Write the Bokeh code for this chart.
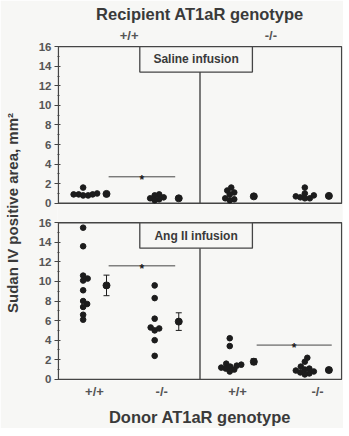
from bokeh.plotting import figure
from bokeh.models import Range1d, FixedTicker, CustomJSTickFormatter, LinearAxis
from bokeh.embed import file_html
from bokeh.resources import INLINE
from bokeh.core.properties import value

# ---------------- data ----------------
panel_titles = ["Saline infusion", "Ang II infusion"]
recipient_labels = ["+/+", "-/-"]
donor_labels = ["+/+", "-/-", "+/+", "-/-"]
y_tick_values = [0, 2, 4, 6, 8, 10, 12, 14, 16]

# individual mice, groups ordered: recipient +/+ (donor +/+, -/-), recipient -/- (donor +/+, -/-)
saline_rwt_dwt = [1.6, 1.0, 0.9, 0.9, 0.9, 0.8, 0.8]
saline_rwt_dko = [0.9, 0.8, 0.6, 0.5, 0.4, 0.3]
saline_rko_dwt = [1.6, 1.3, 1.1, 0.9, 0.5, 0.4, 0.3]
saline_rko_dko = [1.6, 1.0, 0.8, 0.7, 0.6, 0.5, 0.5]

angii_rwt_dwt = [15.5, 13.6, 10.6, 10.3, 10.1, 9.1, 8.0, 7.7, 7.4, 6.6, 6.1]
angii_rwt_dko = [9.6, 8.3, 6.2, 5.3, 5.2, 5.0, 4.0, 2.4]
angii_rko_dwt = [4.2, 3.4, 1.6, 1.5, 1.4, 1.3, 1.2, 1.1, 1.0, 0.8]
angii_rko_dko = [2.2, 1.8, 1.3, 1.1, 1.0, 0.9, 0.8, 0.7, 0.6, 0.5]

saline_means = [0.95, 0.5, 0.7, 0.75]
saline_sems = [0.1, 0.1, 0.15, 0.1]
angii_means = [9.6, 5.9, 1.8, 0.95]
angii_sems = [1.05, 0.9, 0.3, 0.2]

saline_sig_y = [2.7]          # bar over recipient +/+ pair
angii_sig_y = [11.6, 3.5]     # bars over recipient +/+ and recipient -/- pairs

# ---------------- layout constants ----------------
OFF = 18                      # vertical offset of the upper (saline) panel
DOT_X = [0.35, 1.36, 2.42, 3.48]
MEAN_X = [0.68, 1.70, 2.76, 3.82]
TICK_X = [0.51, 1.46, 2.53, 3.66]
REC_X = [1, 3]
SIG_SPANS = [(0.71, 1.65), (2.80, 3.86)]
PX_X, PX_Y = 70.8, 9.84
DOT, GAP = 5.6, 4.6           # marker diameter and minimum centre distance in the swarm
INK = "#1c1c1c"
LINE = "#454545"
TXT = "#3a3a3a"
BG = "#f7f7f5"


def swarm(vals, cx):
    placed = []
    xs = [0.0] * len(vals)
    order = sorted(range(len(vals)), key=lambda i: vals[i])
    cands = [0.0] + [s * k * 0.5 for k in range(1, 120) for s in (1, -1)]
    for i in order:
        y = vals[i] * PX_Y
        for c in cands:
            if all((c - px) ** 2 + (y - py) ** 2 >= GAP * GAP for px, py in placed):
                break
        placed.append((c, y))
        xs[i] = cx + c / PX_X
    return xs


p = figure(frame_width=285, frame_height=335, output_backend="svg", toolbar_location=None,
           x_range=Range1d(-0.012, 4.012), y_range=Range1d(-0.12, 34.12),
           min_border_left=55, min_border_right=1, min_border_top=42, min_border_bottom=43,
           background_fill_color=BG, border_fill_color=BG, outline_line_color=None)
p.grid.visible = False

# panel frames and dividers
p.quad(left=0, right=4, bottom=[0, OFF], top=[16, 16 + OFF], fill_color=None,
       line_color=LINE, line_width=1.4)
p.segment(x0=2, y0=[0, OFF], x1=2, y1=[16, 16 + OFF], line_color=LINE, line_width=1.4)

panels = [
    (OFF, [saline_rwt_dwt, saline_rwt_dko, saline_rko_dwt, saline_rko_dko],
     saline_means, saline_sems, saline_sig_y),
    (0, [angii_rwt_dwt, angii_rwt_dko, angii_rko_dwt, angii_rko_dko],
     angii_means, angii_sems, angii_sig_y),
]

for (base, groups, means, sems, sigs), title in zip(panels, panel_titles):
    for g, vals in enumerate(groups):
        xs = swarm(vals, DOT_X[g])
        p.scatter(xs, [v + base for v in vals], size=DOT, color=INK)
    lo = [m - s + base for m, s in zip(means, sems)]
    hi = [m + s + base for m, s in zip(means, sems)]
    p.segment(x0=MEAN_X, y0=lo, x1=MEAN_X, y1=hi, line_color=INK, line_width=1)
    p.dash(MEAN_X, lo, size=6, line_color=INK, line_width=1)
    p.dash(MEAN_X, hi, size=6, line_color=INK, line_width=1)
    p.scatter(MEAN_X, [m + base for m in means], size=7, color=INK)
    for (x0, x1), sy in zip(SIG_SPANS, sigs):
        p.segment(x0=x0, y0=sy + base, x1=x1, y1=sy + base, line_color=LINE, line_width=1)
        p.text(x=[(x0 + x1) / 2], y=[sy + base], text=["*"], text_align="center",
               text_baseline="alphabetic", y_offset=3, text_font_size="12px",
               text_font=value("Liberation Sans"), text_font_style="bold", text_color=INK)
    # panel caption box
    p.quad(left=1.15, right=2.74, bottom=13.4 + base, top=16 + base,
           fill_color=BG, line_color=LINE, line_width=1.3)
    p.text(x=[1.945], y=[14.7 + base], text=[title], text_align="center",
           text_baseline="middle", text_font_size="12px",
           text_font=value("Liberation Sans"), text_font_style="bold", text_color=TXT)

# y axis
ya = p.yaxis[0]
ya.ticker = FixedTicker(ticks=y_tick_values + [t + OFF for t in y_tick_values],
                        minor_ticks=[t + 1 for t in y_tick_values[:-1]] +
                                    [t + 1 + OFF for t in y_tick_values[:-1]])
ya.formatter = CustomJSTickFormatter(args=dict(off=OFF),
                                     code="return (tick >= off - 1 ? tick - off : tick).toFixed(0);")
ya.axis_line_color = None
ya.major_tick_in = 3
ya.major_tick_out = 3
ya.minor_tick_in = 2
ya.minor_tick_out = 0
ya.major_tick_line_color = LINE
ya.minor_tick_line_color = LINE
ya.major_label_standoff = 3
ya.major_label_text_font = "Liberation Sans"
ya.major_label_text_font_style = "bold"
ya.major_label_text_font_size = "11.5px"
ya.major_label_text_color = "#555555"
ya.axis_label = "Sudan IV positive area, mm\u00b2"
ya.axis_label_text_font = "Liberation Sans"
ya.axis_label_text_font_style = "bold"
ya.axis_label_text_font_size = "15px"
ya.axis_label_text_color = TXT
ya.axis_label_standoff = 15

# bottom axis (donor genotype)
xa = p.xaxis[0]
xa.ticker = FixedTicker(ticks=TICK_X)
xa.formatter = CustomJSTickFormatter(args=dict(labels=donor_labels, pos=TICK_X),
    code="let k = 0; for (let i = 0; i < pos.length; i++) { if (Math.abs(pos[i] - tick) < Math.abs(pos[k] - tick)) k = i; } return labels[k];")
xa.axis_line_color = None
xa.major_tick_line_color = None
xa.minor_tick_line_color = None
xa.major_tick_out = 0
xa.major_tick_in = 0
xa.minor_tick_out = 0
xa.major_label_standoff = 3
xa.major_label_text_font = "Liberation Sans"
xa.major_label_text_font_style = "bold"
xa.major_label_text_font_size = "13px"
xa.major_label_text_color = "#555555"
xa.axis_label = "Donor AT1aR genotype"
xa.axis_label_text_font = "Liberation Sans"
xa.axis_label_text_font_style = "bold"
xa.axis_label_text_font_size = "16.5px"
xa.axis_label_text_color = TXT
xa.axis_label_standoff = 6

# top axis (recipient genotype)
ta = LinearAxis(ticker=FixedTicker(ticks=REC_X),
                formatter=CustomJSTickFormatter(args=dict(labels=recipient_labels, pos=REC_X),
    code="let k = 0; for (let i = 0; i < pos.length; i++) { if (Math.abs(pos[i] - tick) < Math.abs(pos[k] - tick)) k = i; } return labels[k];"))
ta.axis_line_color = None
ta.major_tick_line_color = None
ta.minor_tick_line_color = None
ta.major_tick_out = 0
ta.major_tick_in = 0
ta.minor_tick_out = 0
ta.major_label_standoff = 3
ta.major_label_text_font = "Liberation Sans"
ta.major_label_text_font_style = "bold"
ta.major_label_text_font_size = "13px"
ta.major_label_text_color = "#555555"
p.add_layout(ta, "above")

p.title.text = "Recipient AT1aR genotype"
p.title.align = "center"
p.title.text_font = "Liberation Sans"
p.title.text_font_style = "bold"
p.title.text_font_size = "16.5px"
p.title.text_color = TXT
p.title.standoff = 4

open("out.html", "w").write(file_html(p, INLINE))
